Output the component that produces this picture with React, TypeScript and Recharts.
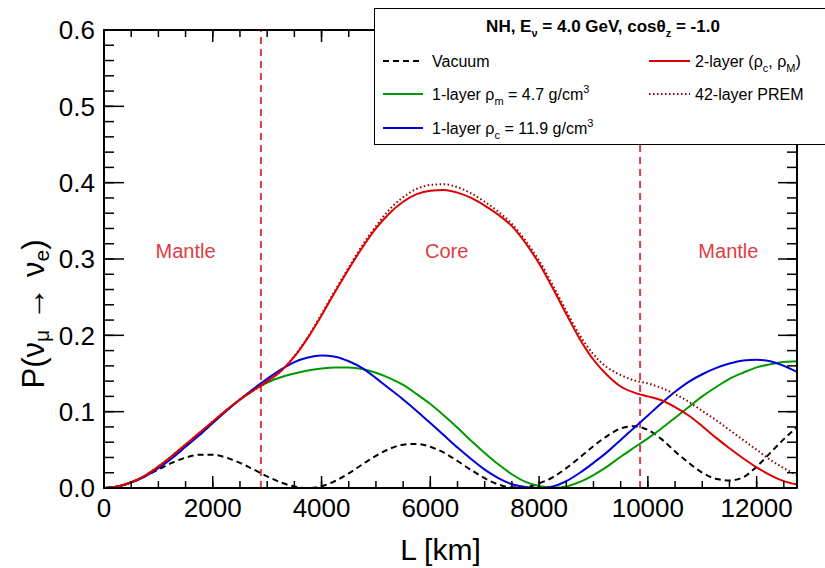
import React from 'react';
import { LineChart, Line, XAxis, YAxis, ReferenceLine, ReferenceDot } from 'recharts';

const FONT = '"Liberation Sans", Arial, Helvetica, sans-serif';

// Baseline L [km]
const L_KM = [0, 250, 500, 750, 1000, 1250, 1500, 1750, 2000, 2250, 2500, 2750, 3000, 3250, 3500, 3750, 4000, 4250, 4500, 4750, 5000, 5250, 5500, 5750, 6000, 6250, 6500, 6750, 7000, 7250, 7500, 7750, 8000, 8250, 8500, 8750, 9000, 9250, 9500, 9750, 10000, 10250, 10500, 10750, 11000, 11250, 11500, 11750, 12000, 12250, 12500, 12742];

const VACUUM = [0, 0.0019, 0.0073, 0.0152, 0.0243, 0.033, 0.0398, 0.0435, 0.0435, 0.0398, 0.033, 0.0243, 0.0152, 0.0073, 0.0019, 0, 0.0024, 0.0092, 0.0192, 0.0309, 0.0422, 0.0513, 0.0568, 0.0578, 0.054, 0.0462, 0.0354, 0.0236, 0.0128, 0.0046, 0.0008, 0.0012, 0.006, 0.014, 0.026, 0.04, 0.055, 0.068, 0.078, 0.081, 0.076, 0.064, 0.048, 0.033, 0.02, 0.012, 0.0098, 0.014, 0.028, 0.046, 0.064, 0.08];

const ONE_LAYER_M = [0, 0.002, 0.0075, 0.016, 0.028, 0.042, 0.056, 0.071, 0.086, 0.102, 0.116, 0.128, 0.138, 0.145, 0.15, 0.154, 0.1565, 0.158, 0.158, 0.156, 0.151, 0.144, 0.135, 0.123, 0.11, 0.095, 0.079, 0.062, 0.046, 0.031, 0.018, 0.008, 0.0025, 0.0002, 0.002, 0.008, 0.017, 0.028, 0.041, 0.053, 0.065, 0.078, 0.092, 0.106, 0.12, 0.132, 0.143, 0.151, 0.158, 0.162, 0.165, 0.166];

const ONE_LAYER_C = [0, 0.002, 0.007, 0.015, 0.026, 0.039, 0.054, 0.069, 0.085, 0.101, 0.116, 0.13, 0.143, 0.155, 0.165, 0.171, 0.1735, 0.172, 0.166, 0.157, 0.144, 0.13, 0.116, 0.101, 0.085, 0.069, 0.053, 0.038, 0.024, 0.013, 0.005, 0.0012, 0, 0.002, 0.009, 0.02, 0.033, 0.047, 0.063, 0.079, 0.095, 0.111, 0.126, 0.139, 0.149, 0.157, 0.163, 0.167, 0.168, 0.166, 0.16, 0.152];

const TWO_LAYER = [0, 0.002, 0.0075, 0.016, 0.028, 0.042, 0.057, 0.072, 0.087, 0.102, 0.116, 0.128, 0.14, 0.153, 0.172, 0.197, 0.226, 0.257, 0.287, 0.315, 0.34, 0.36, 0.375, 0.385, 0.3895, 0.3905, 0.387, 0.38, 0.37, 0.358, 0.343, 0.321, 0.294, 0.262, 0.228, 0.195, 0.168, 0.148, 0.133, 0.125, 0.12, 0.115, 0.106, 0.095, 0.081, 0.066, 0.052, 0.039, 0.027, 0.017, 0.009, 0.0046];

const PREM = [0, 0.002, 0.0075, 0.016, 0.028, 0.042, 0.057, 0.072, 0.087, 0.102, 0.116, 0.128, 0.139, 0.153, 0.173, 0.198, 0.228, 0.259, 0.289, 0.318, 0.343, 0.365, 0.381, 0.392, 0.397, 0.398, 0.394, 0.386, 0.375, 0.362, 0.346, 0.324, 0.298, 0.266, 0.232, 0.2, 0.175, 0.158, 0.148, 0.141, 0.137, 0.131, 0.123, 0.113, 0.101, 0.089, 0.076, 0.063, 0.05, 0.037, 0.026, 0.017];

const X_TICKS_MINOR = [0, 500, 1000, 1500, 2000, 2500, 3000, 3500, 4000, 4500, 5000, 5500, 6000, 6500, 7000, 7500, 8000, 8500, 9000, 9500, 10000, 10500, 11000, 11500, 12000, 12500];
const X_TICKS_MAJOR = [0, 2000, 4000, 6000, 8000, 10000, 12000];
const Y_TICKS_MINOR = [0, 0.02, 0.04, 0.06, 0.08, 0.1, 0.12, 0.14, 0.16, 0.18, 0.2, 0.22, 0.24, 0.26, 0.28, 0.3, 0.32, 0.34, 0.36, 0.38, 0.4, 0.42, 0.44, 0.46, 0.48, 0.5, 0.52, 0.54, 0.56, 0.58, 0.6];
const Y_TICKS_MAJOR = [0, 0.1, 0.2, 0.3, 0.4, 0.5, 0.6];

const BOUNDARIES = [2885, 9857];
const REGIONS = [
  { name: 'Mantle', L: 1500, P: 0.31 },
  { name: 'Core', L: 6300, P: 0.31 },
  { name: 'Mantle', L: 11480, P: 0.31 },
];

const data = L_KM.map((L, i) => ({
  L,
  vac: VACUUM[i],
  m1: ONE_LAYER_M[i],
  c1: ONE_LAYER_C[i],
  two: TWO_LAYER[i],
  prem: PREM[i],
}));

const REGION_RED = '#de3c44';
const X_DOMAIN: [number, number] = [0, 12742];
const Y_DOMAIN: [number, number] = [0, 0.6];
const TICK_LINE = { stroke: '#000', strokeWidth: 1.5 };
const FRAME = { stroke: '#000', strokeWidth: 2 };
const TICK_TEXT = { fontSize: 26, fill: '#000', fontFamily: FONT };
const EmptyTick = () => <g />;

const XTitle = (props: any) => {
  const vb = props.viewBox;
  return (
    <text x={vb.x + vb.width / 2 - 10} y={vb.y + 71} textAnchor="middle" fontSize={30} fontFamily={FONT} fill="#000">
      L [km]
    </text>
  );
};

const YTitle = () => {
  const cx = 33;
  const cy = 314;
  return (
    <text
      x={cx}
      y={cy}
      transform={`rotate(-90 ${cx} ${cy})`}
      textAnchor="middle"
      fontSize={31}
      fontFamily={FONT}
      fill="#000"
      dominantBaseline="central"
    >
      <tspan>P(ν</tspan>
      <tspan dy={8} fontSize={21}>μ</tspan>
      <tspan dy={-8} fontSize={34}>{' → '}</tspan>
      <tspan>ν</tspan>
      <tspan dy={8} fontSize={21}>e</tspan>
      <tspan dy={-8}>)</tspan>
    </text>
  );
};

const LegendBox = () => {
  const rowText = { fontSize: 16, fontFamily: FONT, fill: '#000' } as const;
  return (
    <div
      style={{
        position: 'absolute',
        left: 374,
        top: 8,
        width: 460,
        height: 137,
        border: '1.5px solid #000',
        background: '#fff',
        boxSizing: 'border-box',
      }}
    >
      <svg width={460} height={136} style={{ display: 'block', position: 'absolute', left: -1.5, top: -1.5 }}>
        <text x={229} y={24} textAnchor="middle" fontSize={17} fontWeight="bold" fontFamily={FONT}>
          <tspan>NH, E</tspan>
          <tspan dy={5} fontSize={11}>ν</tspan>
          <tspan dy={-5}>{' = 4.0 GeV, cosθ'}</tspan>
          <tspan dy={5} fontSize={11}>z</tspan>
          <tspan dy={-5}>{' = -1.0'}</tspan>
        </text>
        <line x1={9} x2={49} y1={53} y2={53} stroke="#000" strokeWidth={2} strokeDasharray="6 4" />
        <text x={58} y={59} {...rowText}>Vacuum</text>
        <line x1={275} x2={316} y1={53} y2={53} stroke="#dd0000" strokeWidth={2} />
        <text x={321} y={59} {...rowText}>
          <tspan>2-layer (ρ</tspan>
          <tspan dy={5} fontSize={11}>c</tspan>
          <tspan dy={-5}>, ρ</tspan>
          <tspan dy={5} fontSize={11}>M</tspan>
          <tspan dy={-5}>)</tspan>
        </text>
        <line x1={9} x2={49} y1={86} y2={86} stroke="#009900" strokeWidth={2} />
        <text x={58} y={92} {...rowText}>
          <tspan>1-layer ρ</tspan>
          <tspan dy={5} fontSize={11}>m</tspan>
          <tspan dy={-5}>{' = 4.7 g/cm'}</tspan>
          <tspan dy={-7} fontSize={11}>3</tspan>
        </text>
        <line x1={275} x2={316} y1={86} y2={86} stroke="#8b0000" strokeWidth={2} strokeDasharray="1.5 2.5" />
        <text x={321} y={92} {...rowText}>42-layer PREM</text>
        <line x1={9} x2={49} y1={120} y2={120} stroke="#0000dd" strokeWidth={2} />
        <text x={58} y={126} {...rowText}>
          <tspan>1-layer ρ</tspan>
          <tspan dy={5} fontSize={11}>c</tspan>
          <tspan dy={-5}>{' = 11.9 g/cm'}</tspan>
          <tspan dy={-7} fontSize={11}>3</tspan>
        </text>
      </svg>
    </div>
  );
};

const RegionLabel = (name: string) => (props: any) => {
  const vb = props.viewBox;
  const cx = vb.x + vb.width / 2;
  const cy = vb.y + vb.height / 2;
  return (
    <text x={cx} y={cy} textAnchor="middle" dominantBaseline="central" fontSize={20} fill={REGION_RED} fontFamily={FONT}>
      {name}
    </text>
  );
};

// axis ids: "...1" = minor ticks (adjacent to plot), "...2" = major ticks
const XB = 'xb2';
const YL = 'yl2';

export default function App() {
  return (
    <div style={{ position: 'absolute', left: 0, top: 0, width: 825, height: 568, background: '#fff', fontFamily: FONT, overflow: 'hidden' }}>
      <LineChart
        width={825}
        height={568}
        data={data}
        margin={{ top: 28, right: 26, bottom: 0, left: 0 }}
        style={{ fontFamily: FONT }}
      >
        <XAxis
          xAxisId={XB}
          dataKey="L"
          type="number"
          domain={X_DOMAIN}
          allowDataOverflow
          ticks={X_TICKS_MAJOR}
          interval={0}
          height={79}
          tickSize={-13}
          tickMargin={23}
          tick={TICK_TEXT}
          tickLine={TICK_LINE}
          axisLine={false}
          label={{ content: XTitle }}
        />
        <XAxis
          xAxisId="xb1"
          dataKey="L"
          type="number"
          domain={X_DOMAIN}
          allowDataOverflow
          ticks={X_TICKS_MINOR}
          interval={0}
          height={1}
          tickSize={-7}
          tick={EmptyTick}
          tickLine={TICK_LINE}
          axisLine={FRAME}
        />
        <XAxis
          xAxisId="xt2"
          orientation="top"
          dataKey="L"
          type="number"
          domain={X_DOMAIN}
          allowDataOverflow
          ticks={X_TICKS_MAJOR}
          interval={0}
          height={1}
          tickSize={-13}
          tick={EmptyTick}
          tickLine={TICK_LINE}
          axisLine={false}
        />
        <XAxis
          xAxisId="xt1"
          orientation="top"
          dataKey="L"
          type="number"
          domain={X_DOMAIN}
          allowDataOverflow
          ticks={X_TICKS_MINOR}
          interval={0}
          height={1}
          tickSize={-7}
          tick={EmptyTick}
          tickLine={TICK_LINE}
          axisLine={FRAME}
        />
        <YAxis
          yAxisId={YL}
          type="number"
          domain={Y_DOMAIN}
          allowDataOverflow
          ticks={Y_TICKS_MAJOR}
          interval={0}
          width={103}
          tickSize={-21}
          tickMargin={29}
          tick={TICK_TEXT}
          tickFormatter={(v: number) => v.toFixed(1)}
          tickLine={TICK_LINE}
          axisLine={false}
          label={{ content: YTitle }}
        />
        <YAxis
          yAxisId="yl1"
          type="number"
          domain={Y_DOMAIN}
          allowDataOverflow
          ticks={Y_TICKS_MINOR}
          interval={0}
          width={1}
          tickSize={-10}
          tick={EmptyTick}
          tickLine={TICK_LINE}
          axisLine={FRAME}
        />
        <YAxis
          yAxisId="yr2"
          orientation="right"
          type="number"
          domain={Y_DOMAIN}
          allowDataOverflow
          ticks={Y_TICKS_MAJOR}
          interval={0}
          width={1}
          tickSize={-20}
          tick={EmptyTick}
          tickLine={TICK_LINE}
          axisLine={false}
        />
        <YAxis
          yAxisId="yr1"
          orientation="right"
          type="number"
          domain={Y_DOMAIN}
          allowDataOverflow
          ticks={Y_TICKS_MINOR}
          interval={0}
          width={1}
          tickSize={-10}
          tick={EmptyTick}
          tickLine={TICK_LINE}
          axisLine={FRAME}
        />
        {BOUNDARIES.map((b) => (
          <ReferenceLine key={b} xAxisId={XB} yAxisId={YL} x={b} stroke={REGION_RED} strokeWidth={2} strokeDasharray="7 5" />
        ))}
        {REGIONS.map((r, i) => (
          <ReferenceDot
            key={i}
            xAxisId={XB}
            yAxisId={YL}
            x={r.L}
            y={r.P}
            r={0}
            fill="none"
            stroke="none"
            label={{ content: RegionLabel(r.name) }}
          />
        ))}
        <Line xAxisId="xb1" yAxisId="yl1" type="monotone" dataKey="vac" stroke="#000" strokeWidth={2} strokeDasharray="6 4" dot={false} isAnimationActive={false} />
        <Line xAxisId="xt1" yAxisId="yr1" type="monotone" dataKey="m1" stroke="#009900" strokeWidth={2} dot={false} isAnimationActive={false} />
        <Line xAxisId="xt2" yAxisId="yr2" type="monotone" dataKey="c1" stroke="#0000dd" strokeWidth={2} dot={false} isAnimationActive={false} />
        <Line xAxisId={XB} yAxisId={YL} type="monotone" dataKey="prem" stroke="#8b0000" strokeWidth={2} strokeDasharray="1.5 2.5" dot={false} isAnimationActive={false} />
        <Line xAxisId={XB} yAxisId={YL} type="monotone" dataKey="two" stroke="#dd0000" strokeWidth={2} dot={false} isAnimationActive={false} />
      </LineChart>
      <LegendBox />
    </div>
  );
}
